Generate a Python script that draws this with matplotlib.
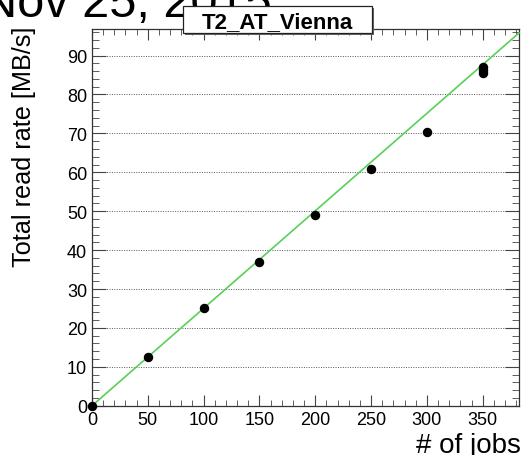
import numpy as np
import matplotlib.pyplot as plt
from matplotlib.patches import Rectangle
from matplotlib.ticker import MultipleLocator

plt.rcParams['font.family'] = ['Liberation Sans', 'DejaVu Sans']

# total read rate vs number of concurrent jobs
jobs = [0, 50, 100, 150, 200, 250, 300, 350, 350, 350]
rate = [0.0, 12.6, 25.0, 36.9, 49.0, 60.8, 70.3, 87.1, 86.2, 85.4]

# linear fit through the origin
fit_p0 = 0.0
fit_p1 = 0.2505

x_range = [0, 382.5]
y_range = [0, 96.8]

fig = plt.figure(figsize=(5.23, 4.56), dpi=100)
ax = fig.add_axes([0.1759, 0.108, 0.9924 - 0.1759, 0.934 - 0.108])

ax.set_xlim(x_range)
ax.set_ylim(y_range)

xf = np.array(x_range)
ax.plot(xf, fit_p0 + fit_p1 * xf, color='#58d058', lw=1.2, zorder=3, clip_on=False)
ax.plot(jobs, rate, 'o', color='black', ms=5.8, zorder=4, clip_on=False)

ax.xaxis.set_major_locator(MultipleLocator(50))
ax.xaxis.set_minor_locator(MultipleLocator(10))
ax.yaxis.set_major_locator(MultipleLocator(10))
ax.yaxis.set_minor_locator(MultipleLocator(2))
ax.yaxis.grid(True, which='major', ls=(0, (1, 1.5)), color='#555555', lw=0.7)

ax.tick_params(which='both', direction='in', top=True, right=True, labelsize=13, color='#444444')
ax.tick_params(axis='x', which='major', length=8, pad=4)
ax.tick_params(axis='x', which='minor', length=4.5)
ax.tick_params(axis='y', which='major', length=10, pad=3.5)
ax.tick_params(axis='y', which='minor', length=5)
for s in ax.spines.values():
    s.set_linewidth(0.9)
    s.set_color('#333333')

fig.text(0.995, 0.007, '# of jobs', ha='right', va='baseline', fontsize=20)
fig.text(0.046, (456 - 27) / 456, 'Total read rate [MB/s]', rotation=90, ha='center', va='top', fontsize=18.2)

# date stamp, partly outside the canvas
fig.text(-18 / 523, (456 - 17) / 456, 'Nov 25, 2015', ha='left', va='baseline', fontsize=35, zorder=1)

# title pave with shadow
bx0, bx1 = 182.7 / 523, 372.3 / 523
by0, by1 = (456 - 34) / 456, (456 - 7.3) / 456
fig.patches.append(Rectangle((bx0 + 2 / 523, by0 - 2 / 456), bx1 - bx0, by1 - by0,
                             transform=fig.transFigure, facecolor='#666666', edgecolor='none', zorder=5))
fig.patches.append(Rectangle((bx0, by0), bx1 - bx0, by1 - by0, transform=fig.transFigure,
                             facecolor='white', edgecolor='#222222', lw=0.9, zorder=6))
fig.text((bx0 + bx1) / 2, (by0 + by1) / 2 - 0.004, 'T2_AT_Vienna', ha='center', va='center',
         fontsize=16, fontweight='bold', zorder=7)

fig.savefig('out.png', dpi=100)
